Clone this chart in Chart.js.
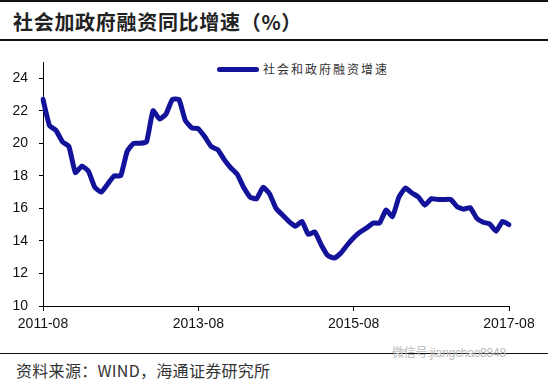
<!DOCTYPE html>
<html>
<head>
<meta charset="utf-8">
<script src="https://cdn.jsdelivr.net/npm/chart.js@4"></script>
<style>
  html, body { margin: 0; padding: 0; background: #fff; }
  body { width: 548px; height: 380px; position: relative; overflow: hidden; font-family: "Noto Sans CJK SC", sans-serif; }
  .rule { position: absolute; left: 0; width: 548px; background: #111; }
  #title { position: absolute; left: 13px; top: 8px; font-size: 20px; font-weight: 700; color: #222; white-space: nowrap; line-height: 28px; letter-spacing: 0.7px; }
  #source { position: absolute; left: 16px; top: 359px; font-size: 16px; color: #333; white-space: nowrap; line-height: 22px; letter-spacing: 0.3px; }
  #wm { position: absolute; left: 392px; top: 346px; font-size: 12px; color: #b8b8b8; white-space: nowrap; line-height: 15px; letter-spacing: -0.2px; font-family: "Liberation Sans", "Noto Sans CJK SC", sans-serif; }
  #legend { position: absolute; left: 217px; top: 60px; height: 18px; white-space: nowrap; }
  #legend .swatch { position: absolute; left: 0; top: 7px; width: 42px; height: 5px; border-radius: 3px; }
  #legend .txt { position: absolute; left: 46px; top: 0; font-size: 12px; letter-spacing: 2px; color: #333; line-height: 18px; }
  #wrap { position: absolute; left: 0; top: 40px; width: 548px; height: 300px; }
</style>
</head>
<body>
<div class="rule" style="top:0;height:2px"></div>
<div id="title">社会加政府融资同比增速（%）</div>
<div class="rule" style="top:39px;height:2px"></div>
<div id="legend"><div class="swatch"></div><div class="txt"></div></div>
<div id="wrap"><canvas id="c" width="548" height="300"></canvas></div>
<div class="rule" style="top:353px;height:1px"></div>
<div id="wm">微信号:jiangchao8848</div>
<div id="source">资料来源：WIND，海通证券研究所</div>
<script>
// Months 2011-08 .. 2017-08
const startYear = 2011, startMonth = 8, monthCount = 73;
const categories = [];
for (let i = 0; i < monthCount; i++) {
  const m = startMonth - 1 + i;
  const y = startYear + Math.floor(m / 12);
  const mm = (m % 12) + 1;
  categories.push(y + '-' + (mm < 10 ? '0' + mm : mm));
}
const seriesName = '社会和政府融资增速';
const seriesValues = [
  22.7, 21.1, 20.8, 20.1, 19.8, 18.2, 18.6, 18.3, 17.3, 17.0,
  17.5, 18.0, 18.0, 19.5, 20.0, 20.0, 20.1, 22.0, 21.5, 21.8,
  22.7, 22.7, 21.4, 20.95, 20.9, 20.4, 19.8, 19.6, 19.0, 18.5,
  18.1, 17.3, 16.7, 16.6, 17.3, 16.9, 16.0, 15.6, 15.2, 14.9,
  15.2, 14.4, 14.55, 13.75, 13.1, 12.95, 13.25, 13.75, 14.2, 14.55,
  14.8, 15.1, 15.1, 15.9, 15.5, 16.7, 17.25, 16.95, 16.7, 16.2,
  16.6, 16.55, 16.55, 16.55, 16.1, 15.95, 16.05, 15.4, 15.15, 15.05,
  14.6, 15.2, 15.0
];
const xTickLabels = ['2011-08', '2013-08', '2015-08', '2017-08'];
const yMin = 10, yMax = 25, yStep = 2;
const lineColor = '#12129a';

document.querySelector('#legend .swatch').style.background = lineColor;
document.querySelector('#legend .txt').textContent = seriesName;

const tickFont = { family: '"Liberation Sans", Arial, sans-serif', size: 14 };

new Chart(document.getElementById('c'), {
  type: 'line',
  data: {
    labels: categories,
    datasets: [{
      label: seriesName,
      data: seriesValues,
      borderColor: lineColor,
      backgroundColor: lineColor,
      borderWidth: 5,
      pointRadius: 0,
      tension: 0.15,
      borderCapStyle: 'round',
      borderJoinStyle: 'round'
    }]
  },
  options: {
    responsive: false,
    animation: false,
    devicePixelRatio: 1,
    layout: { padding: { top: 22, right: 39, left: 0, bottom: 0 } },
    plugins: { legend: { display: false }, tooltip: { enabled: false } },
    scales: {
      x: {
        type: 'category',
        offset: false,
        afterBuildTicks: (scale) => {
          scale.ticks = scale.ticks.filter(t => xTickLabels.includes(categories[t.value]));
        },
        afterFit: (scale) => { scale.height = 34; },
        ticks: {
          autoSkip: false, maxRotation: 0, minRotation: 0,
          color: '#111', font: tickFont, padding: 5
        },
        grid: { drawOnChartArea: false, drawTicks: true, tickLength: 5, color: '#000', lineWidth: 1 },
        border: { display: true, color: '#000', width: 1 }
      },
      y: {
        min: yMin, max: yMax,
        afterFit: (scale) => { scale.width = 43; },
        ticks: { stepSize: yStep, includeBounds: false, color: '#111', font: tickFont, padding: 11 },
        grid: { drawOnChartArea: false, drawTicks: true, tickLength: 4, color: '#000', lineWidth: 1 },
        border: { display: true, color: '#000', width: 1 }
      }
    }
  }
});
</script>
</body>
</html>
